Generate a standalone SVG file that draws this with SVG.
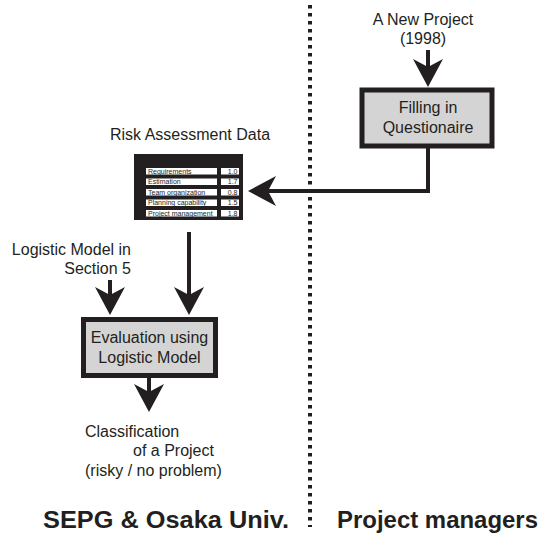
<svg xmlns="http://www.w3.org/2000/svg" width="541" height="535" viewBox="0 0 541 535">
<style>
.t{font-family:"Liberation Sans",Arial,sans-serif;font-size:16px;fill:#231f20}
.b{font-family:"Liberation Sans",Arial,sans-serif;font-size:24px;font-weight:bold;fill:#231f20}
.s{font-family:"Liberation Sans",Arial,sans-serif;font-size:7px;fill:#231f20}
.box{fill:#d4d4d4;stroke:#231f20;stroke-width:5}
.ln{fill:none;stroke:#231f20;stroke-width:4}
.cell{fill:#fff}
</style>
<defs>
<path id="ah" d="M0,0 L-15,-28 L0,-20 L15,-28 Z" fill="#231f20"/>
</defs>
<rect width="541" height="535" fill="#fff"/>
<g id="divider">
<line x1="310" y1="5" x2="310" y2="527" stroke="#231f20" stroke-width="4" stroke-dasharray="3.5 4.5"/>
</g>
<g id="connectors">
<line class="ln" x1="428" y1="50" x2="428" y2="68"/>
<use href="#ah" transform="translate(428,87)"/>
<polyline class="ln" points="428,148 428,191 268,191"/>
<use href="#ah" transform="translate(248,191) rotate(90)"/>
<line class="ln" x1="189" y1="232" x2="189" y2="296"/>
<use href="#ah" transform="translate(189,315)"/>
<line class="ln" x1="110" y1="280" x2="110" y2="296"/>
<use href="#ah" transform="translate(110,315)"/>
<line class="ln" x1="149" y1="378" x2="149" y2="393"/>
<use href="#ah" transform="translate(149,412)"/>
</g>
<g id="new-project">
<text class="t" x="423" y="25" text-anchor="middle">A New Project</text>
<text class="t" x="423" y="44" text-anchor="middle">(1998)</text>
</g>
<g id="filling">
<rect class="box" x="362" y="90" width="130" height="56"/>
<text class="t" x="428" y="113" text-anchor="middle">Filling in</text>
<text class="t" x="428" y="133" text-anchor="middle">Questionaire</text>
</g>
<g id="risk-data">
<text class="t" x="190" y="140" text-anchor="middle">Risk Assessment Data</text>
<rect x="134" y="154" width="109" height="66" fill="#231f20"/>
<rect class="cell" x="146" y="168" width="71" height="6.5"/>
<rect class="cell" x="221" y="168" width="18" height="6.5"/>
<rect class="cell" x="146" y="178.5" width="71" height="6.5"/>
<rect class="cell" x="221" y="178.5" width="18" height="6.5"/>
<rect class="cell" x="146" y="189" width="71" height="6.5"/>
<rect class="cell" x="221" y="189" width="18" height="6.5"/>
<rect class="cell" x="146" y="199.5" width="71" height="6.5"/>
<rect class="cell" x="221" y="199.5" width="18" height="6.5"/>
<rect class="cell" x="146" y="210" width="71" height="6.5"/>
<rect class="cell" x="221" y="210" width="18" height="6.5"/>
<text class="s" x="148" y="173.8">Requirements</text>
<text class="s" x="237.5" y="173.8" text-anchor="end">1.0</text>
<text class="s" x="148" y="184.3">Estimation</text>
<text class="s" x="237.5" y="184.3" text-anchor="end">1.7</text>
<text class="s" x="148" y="194.8">Team organization</text>
<text class="s" x="237.5" y="194.8" text-anchor="end">0.8</text>
<text class="s" x="148" y="205.3">Planning capability</text>
<text class="s" x="237.5" y="205.3" text-anchor="end">1.5</text>
<text class="s" x="148" y="215.8">Project management</text>
<text class="s" x="237.5" y="215.8" text-anchor="end">1.8</text>
</g>
<g id="logistic-model">
<text class="t" x="131" y="255" text-anchor="end">Logistic Model in</text>
<text class="t" x="131" y="274" text-anchor="end">Section 5</text>
</g>
<g id="evaluation">
<rect class="box" x="83.5" y="319.5" width="132" height="56"/>
<text class="t" x="149.5" y="343" text-anchor="middle">Evaluation using</text>
<text class="t" x="149.5" y="363" text-anchor="middle">Logistic Model</text>
</g>
<g id="classification">
<text class="t" x="85" y="437">Classification</text>
<text class="t" x="133" y="456">of a Project</text>
<text class="t" x="85" y="476">(risky / no problem)</text>
</g>
<g id="lanes">
<text class="b" x="43" y="528" textLength="246" lengthAdjust="spacingAndGlyphs">SEPG &amp; Osaka Univ.</text>
<text class="b" x="337" y="528" textLength="201" lengthAdjust="spacingAndGlyphs">Project managers</text>
</g>
</svg>
